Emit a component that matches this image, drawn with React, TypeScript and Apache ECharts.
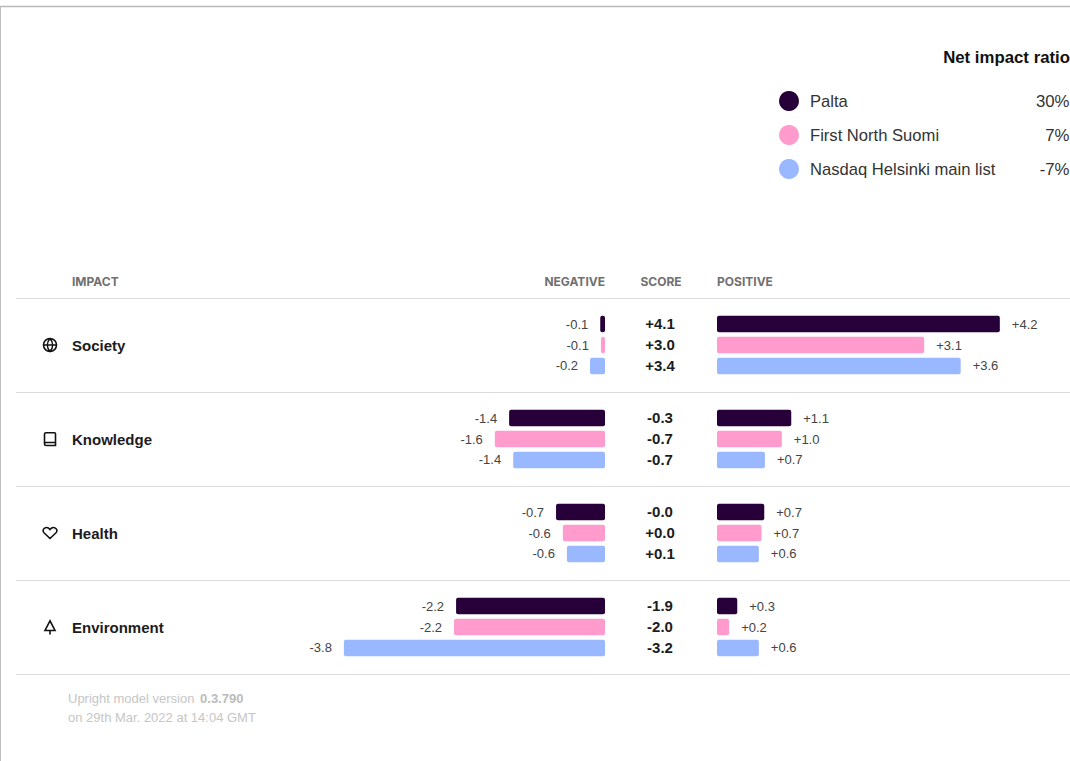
import React, { useEffect, useRef } from "react";
import * as echarts from "echarts";

const categories = ["Society", "Knowledge", "Health", "Environment"];
const seriesNames = ["Palta", "First North Suomi", "Nasdaq Helsinki main list"];
const ratios = ["30%", "7%", "-7%"];
const colors = ["#27003a", "#ff9bcd", "#99b8ff"];

const paltaNegative = [-0.07, -1.41, -0.72, -2.19];
const suomiNegative = [-0.06, -1.62, -0.62, -2.22];
const nasdaqNegative = [-0.22, -1.35, -0.56, -3.84];

const paltaPositive = [4.19, 1.1, 0.7, 0.3];
const suomiPositive = [3.07, 0.96, 0.66, 0.18];
const nasdaqPositive = [3.61, 0.71, 0.62, 0.62];

const paltaScore = ["+4.1", "-0.3", "-0.0", "-1.9"];
const suomiScore = ["+3.0", "-0.7", "+0.0", "-2.0"];
const nasdaqScore = ["+3.4", "-0.7", "+0.1", "-3.2"];

const negatives = [paltaNegative, suomiNegative, nasdaqNegative];
const positives = [paltaPositive, suomiPositive, nasdaqPositive];
const scores = [paltaScore, suomiScore, nasdaqScore];

const FONT = "'Liberation Sans', Arial, sans-serif";
const HEAD_FONT = "Inter, 'Liberation Sans', sans-serif";

const ICONS: Record<string, string> = {
  iconGlobe:
    "M0.5 7A6.5 6.5 0 1 1 13.5 7A6.5 6.5 0 1 1 0.5 7Z M0.5 7L13.5 7 M7 0.5C3.5 4.5 3.5 9.5 7 13.5C10.5 9.5 10.5 4.5 7 0.5Z",
  iconBook:
    "M3 0.8L11.5 0.8C12.2 0.8 12.5 1.1 12.5 1.8L12.5 13.5L3 13.5C2 13.5 1.5 12.9 1.5 12L1.5 2.3C1.5 1.4 2 0.8 3 0.8Z M1.5 12C1.5 11.1 2 10.5 3 10.5L12.5 10.5",
  iconHeart:
    "M7 12.5L1 6.8C-0.4 5.3 -0.2 3.3 1.3 2.3C3 1.2 5.5 1.6 7 3.6C8.5 1.6 11 1.2 12.7 2.3C14.2 3.3 14.4 5.3 13 6.8Z",
  iconTree: "M7 0.8L2 10.5L12 10.5Z M7 10.5L7 14.5",
};
Object.keys(ICONS).forEach((k) => {
  echarts.graphic.registerShape(k, echarts.graphic.extendPath(ICONS[k], {}));
});
const iconNames = ["iconGlobe", "iconBook", "iconHeart", "iconTree"];

const GRID_TOP = 298;
const LINE_TOP = 298.5;
const ROW = 94;

function headerText(text: string, x: number, align: string) {
  return {
    type: "text",
    x,
    y: 281.5,
    style: {
      text,
      align,
      verticalAlign: "middle",
      fill: "#707070",
      font: `bold 12px ${HEAD_FONT}`,
    },
  };
}

const barCommon = {
  type: "bar",
  barWidth: 16.5,
  barGap: "27%",
};

export default function App() {
  const ref = useRef<HTMLDivElement>(null);
  useEffect(() => {
    document.body.style.margin = "0";
    document.body.style.background = "#fff";
    const chart = echarts.init(ref.current!, null, { renderer: "svg" });

    const hiddenY = (gridIndex: number) => ({
      type: "category",
      gridIndex,
      data: categories,
      inverse: true,
      show: false,
    });

    const option: any = {
      animation: false,
      backgroundColor: "#fff",
      textStyle: { fontFamily: FONT },
      legend: {
        data: seriesNames,
        orient: "vertical",
        left: 779,
        top: 91,
        padding: 0,
        itemWidth: 20,
        itemHeight: 20,
        itemGap: 14,
        icon: "circle",
        selectedMode: false,
        formatter: (name: string) =>
          `{n|${name}}{p|${ratios[seriesNames.indexOf(name)]}}`,
        textStyle: {
          rich: {
            n: { width: 199.5, padding: [0, 0, 0, 6], fontSize: 16.6, color: "#333", fontFamily: FONT, align: "left" },
            p: { width: 60, fontSize: 16.8, color: "#333", fontFamily: FONT, align: "right" },
          },
        },
      },
      grid: [
        { left: 265, width: 340, top: GRID_TOP, height: ROW * 4 },
        { left: 640, width: 40, top: GRID_TOP, height: ROW * 4 },
        { left: 717, width: 337.5, top: GRID_TOP, height: ROW * 4 },
      ],
      xAxis: [
        { type: "value", gridIndex: 0, min: -5, max: 0, show: false },
        { type: "value", gridIndex: 1, min: 0, max: 1, show: false },
        { type: "value", gridIndex: 2, min: 0, max: 5, show: false },
      ],
      yAxis: [
        {
          type: "category",
          gridIndex: 0,
          data: categories,
          inverse: true,
          position: "left",
          axisLine: { show: false },
          axisTick: { show: false },
          axisLabel: {
            align: "left",
            margin: 193,
            fontSize: 15,
            fontWeight: "bold",
            color: "#1c1c1c",
            fontFamily: FONT,
            padding: [0, 0, 2, 0],
          },
        },
        hiddenY(1),
        hiddenY(2),
      ],
      series: [
        ...seriesNames.map((name, i) => ({
          ...barCommon,
          name,
          xAxisIndex: 0,
          yAxisIndex: 0,
          data: negatives[i],
          itemStyle: { color: colors[i], borderRadius: 2 },
          label: {
            show: true,
            position: "left",
            distance: 12,
            fontSize: 13,
            color: "#444",
            fontFamily: FONT,
            formatter: (p: any) => "-" + Math.abs(p.value).toFixed(1),
          },
        })),
        ...seriesNames.map((name, i) => ({
          ...barCommon,
          name: "Score " + name,
          xAxisIndex: 1,
          yAxisIndex: 1,
          data: scores[i].map((s) => ({ value: 1, score: s })),
          itemStyle: { color: "transparent" },
          silent: true,
          label: {
            show: true,
            position: "inside",
            offset: [0, -0.7],
            fontSize: 15,
            fontWeight: "bold",
            color: "#1c1c1c",
            fontFamily: FONT,
            formatter: (p: any) => p.data.score,
          },
        })),
        ...seriesNames.map((name, i) => ({
          ...barCommon,
          name,
          xAxisIndex: 2,
          yAxisIndex: 2,
          data: positives[i],
          itemStyle: { color: colors[i], borderRadius: 2 },
          label: {
            show: true,
            position: "right",
            distance: 12,
            fontSize: 13,
            color: "#444",
            fontFamily: FONT,
            formatter: (p: any) => "+" + p.value.toFixed(1),
          },
        })),
      ],
      graphic: [
        { type: "line", shape: { x1: 0, y1: 6.5, x2: 1070, y2: 6.5 }, style: { stroke: "#b9b9b9", lineWidth: 1.5 } },
        { type: "line", shape: { x1: 0.5, y1: 6, x2: 0.5, y2: 761 }, style: { stroke: "#bdbdbd", lineWidth: 1 } },
        {
          type: "text",
          x: 1070,
          y: 57,
          style: {
            text: "Net impact ratio",
            align: "right",
            verticalAlign: "middle",
            fill: "#111",
            font: `bold 16.8px ${FONT}`,
          },
        },
        headerText("IMPACT", 72, "left"),
        headerText("NEGATIVE", 605, "right"),
        headerText("SCORE", 661, "center"),
        headerText("POSITIVE", 717, "left"),
        ...[0, 1, 2, 3, 4].map((i) => ({
          type: "line",
          shape: { x1: 16, y1: LINE_TOP + ROW * i, x2: 1070, y2: LINE_TOP + ROW * i },
          style: { stroke: "#dcdcdc", lineWidth: 1 },
        })),
        ...iconNames.map((name, i) => ({
          type: name,
          x: 43,
          y: LINE_TOP + ROW * i + 47 - 7.5,
          style: { fill: "none", stroke: "#111", lineWidth: 1.6 },
        })),
        {
          type: "text",
          x: 68,
          y: 698,
          style: {
            text: "{a|Upright model version }{b|0.3.790}",
            verticalAlign: "middle",
            rich: {
              a: { fill: "#c6c6c6", font: `13px ${FONT}` },
              b: { fill: "#bcbcbc", font: `bold 13px ${FONT}`, padding: [0, 0, 0, 2] },
            },
          },
        },
        {
          type: "text",
          x: 68,
          y: 717,
          style: {
            text: "on 29th Mar. 2022 at 14:04 GMT",
            verticalAlign: "middle",
            fill: "#c6c6c6",
            font: `13px ${FONT}`,
          },
        },
      ],
    };
    chart.setOption(option);
    return () => chart.dispose();
  }, []);
  return (
    <div
      ref={ref}
      style={{ width: 1070, height: 761, position: "absolute", left: 0, top: 0 }}
    />
  );
}
